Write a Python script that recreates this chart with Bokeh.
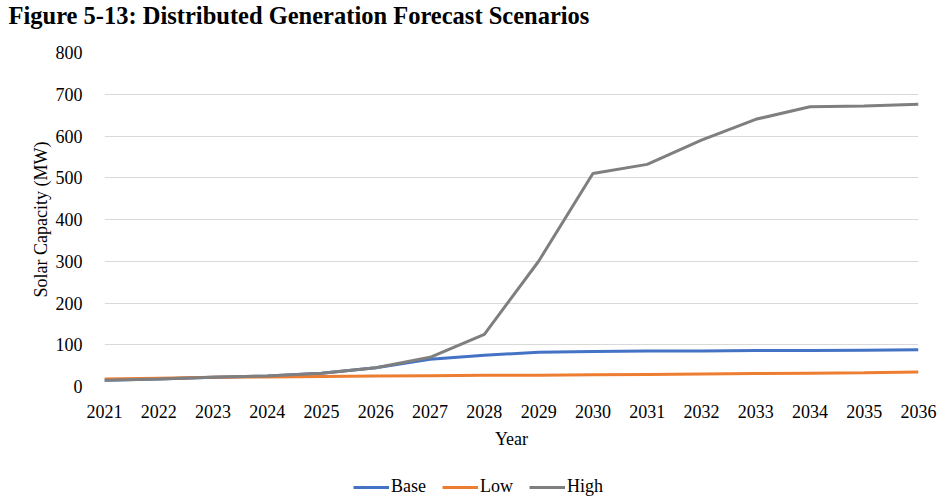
from bokeh.plotting import figure
from bokeh.layouts import column
from bokeh.models import Legend, LegendItem, Range1d, FixedTicker, Title
from bokeh.embed import file_html
from bokeh.resources import INLINE

years = list(range(2021, 2037))
base = [15, 18, 22, 25, 32, 45, 65, 75, 82, 84, 85, 85, 86, 86, 87, 88]
low = [18, 20, 22, 23, 24, 25, 26, 27, 27, 28, 29, 30, 31, 32, 33, 35]
high = [15, 18, 22, 25, 32, 45, 70, 125, 300, 510, 532, 590, 640, 670, 672, 676]
y_ticks = list(range(0, 801, 100))
series_names = ["Base", "Low", "High"]
series_values = [base, low, high]
series_colors = ["#4472C4", "#ED7D31", "#7F7F7F"]

SERIF = "Liberation Serif"

# title strip
tf = figure(width=941, height=40, output_backend="svg", toolbar_location=None,
            x_range=Range1d(0, 1), y_range=Range1d(0, 1),
            x_axis_type=None, y_axis_type=None,
            min_border_left=0, min_border_right=0, min_border_top=0, min_border_bottom=0)
tf.grid.grid_line_color = None
tf.outline_line_color = None
tf.title = Title(text="Figure 5-13:  Distributed Generation Forecast Scenarios",
                 text_font=SERIF, text_font_size="24.5px", text_font_style="bold",
                 text_color="black", offset=-96, standoff=3, vertical_align="top")

p = figure(width=941, height=420, output_backend="svg", toolbar_location=None,
           x_range=Range1d(2021, 2036), y_range=Range1d(0, 800),
           min_border_left=104, min_border_right=23, min_border_top=12, min_border_bottom=74)

for vals, c in zip(series_values, series_colors):
    p.line(years, vals, line_color=c, line_width=3)

p.xaxis.ticker = FixedTicker(ticks=years)
p.yaxis.ticker = FixedTicker(ticks=y_ticks)
for ax in (p.xaxis[0], p.yaxis[0]):
    ax.axis_line_color = None
    ax.major_tick_line_color = None
    ax.minor_tick_line_color = None
    ax.major_label_text_font = SERIF
    ax.major_label_text_font_size = "18px"
    ax.major_label_text_color = "black"
    ax.axis_label_text_font = SERIF
    ax.axis_label_text_font_style = "normal"
    ax.axis_label_text_color = "black"
p.xaxis.axis_label = "Year"
p.xaxis.axis_label_text_font_size = "18px"
p.xaxis.major_label_standoff = 12
p.xaxis.axis_label_standoff = 8
p.yaxis.axis_label = "Solar Capacity (MW)"
p.yaxis.axis_label_text_font_size = "18px"
p.yaxis.major_label_standoff = 16
p.yaxis.axis_label_standoff = 2

p.xgrid.grid_line_color = None
p.ygrid.grid_line_color = "#D9D9D9"
p.ygrid.grid_line_width = 1
p.outline_line_color = None

# legend strip below the chart; its lines use the same data but fall outside its view
lg = figure(width=941, height=37, output_backend="svg", toolbar_location=None,
            x_range=Range1d(0, 1), y_range=Range1d(0, 1),
            x_axis_type=None, y_axis_type=None,
            min_border_left=0, min_border_right=0, min_border_top=0, min_border_bottom=0)
lg.grid.grid_line_color = None
lg.outline_line_color = None
items = []
for name, vals, c in zip(series_names, series_values, series_colors):
    r = lg.line(years, vals, line_color=c, line_width=3)
    items.append(LegendItem(label=name, renderers=[r]))
legend = Legend(items=items, orientation="horizontal", location=(249, 0),
                label_text_font=SERIF, label_text_font_size="18px",
                label_text_color="black", border_line_color=None,
                background_fill_alpha=0, glyph_width=36, spacing=16,
                label_standoff=2, margin=0, padding=4)
lg.add_layout(legend, "center")

layout = column(tf, p, lg, spacing=0)
open("out.html", "w").write(file_html(layout, INLINE))
